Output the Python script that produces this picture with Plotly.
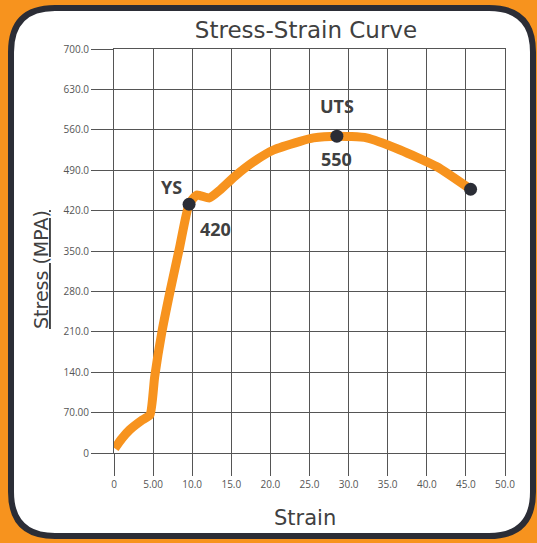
import plotly.graph_objects as go

#
# Data
#
strain = [0.1, 1.0, 2.0, 3.5, 4.6, 5.2, 6.1, 7.2, 8.4, 9.6, 10.6, 12.2, 13.5, 15.5,
          18.0, 20.4, 23.8, 25.5, 28.5, 32.3, 36.6, 41.3, 45.6]
stress = [8, 25, 40, 56, 66, 132, 208, 282, 357, 431, 447, 442, 455, 480,
          506, 525, 540, 546, 549, 546, 525, 496, 457]

point_strain = [9.6, 28.5, 45.6]
point_stress = [431, 549, 457]

x_ticks = [0, 5, 10, 15, 20, 25, 30, 35, 40, 45, 50]
x_labels = ['0', '5.00', '10.0', '15.0', '20.0', '25.0', '30.0', '35.0', '40.0', '45.0', '50.0']
y_ticks = [0, 70, 140, 210, 280, 350, 420, 490, 560, 630, 700]
y_labels = ['0', '70.00', '140.0', '210.0', '280.0', '350.0', '420.0', '490.0', '560.0', '630.0', '700.0']

ORANGE = '#F7931E'
DARK = '#2b2d36'
GRID = '#555555'
TEXT = '#404040'

W, H = 537, 543
ML, MR, MT, MB = 114, 32, 49, 90


def px(X):
    return (X - ML) / (W - ML - MR)


def py(Y):
    return (H - MB - Y) / (H - MT - MB)


# rounded frame around the chart
L, R, T, B, r = 11, 533, 8, 536, 44
pts = [('M', L + r, T), ('L', R - r, T), ('Q', R, T, R, T + r), ('L', R, B - r),
       ('Q', R, B, R - r, B), ('L', L + r, B), ('Q', L, B, L, B - r), ('L', L, T + r),
       ('Q', L, T, L + r, T)]
path = ''
for p in pts:
    cmd = p[0]
    coords = p[1:]
    parts = []
    for i in range(0, len(coords), 2):
        parts.append('%.4f,%.4f' % (px(coords[i]), py(coords[i + 1])))
    path += cmd + ' ' + ' '.join(parts) + ' '
path += 'Z'

#
# Figure
#
fig = go.Figure()
fig.add_trace(go.Scatter(x=strain, y=stress, mode='lines',
                         line=dict(color=ORANGE, width=9, shape='spline', smoothing=0.5),
                         hoverinfo='skip', showlegend=False))
fig.add_trace(go.Scatter(x=point_strain, y=point_stress, mode='markers',
                         marker=dict(color=DARK, size=13),
                         showlegend=False))

lab_font = dict(family='Open Sans, sans-serif', size=18, color=TEXT, weight='bold')
fig.add_annotation(x=point_strain[0], y=point_stress[0], text='YS', showarrow=False,
                   xshift=-18, yshift=17, font=lab_font)
fig.add_annotation(x=point_strain[0], y=point_stress[0], text='420', showarrow=False,
                   xshift=26, yshift=-25, font=lab_font)
fig.add_annotation(x=point_strain[1], y=point_stress[1], text='UTS', showarrow=False,
                   yshift=30, font=lab_font)
fig.add_annotation(x=point_strain[1], y=point_stress[1], text='550', showarrow=False,
                   yshift=-23, font=lab_font)

# axis titles
fig.add_annotation(x=px(305), y=py(518), xref='paper', yref='paper', text='Strain',
                   xanchor='center', yanchor='middle', showarrow=False,
                   font=dict(family='DejaVu Sans, sans-serif', size=21, color=TEXT))
fig.add_annotation(x=px(41), y=py(270), xref='paper', yref='paper', text='<u>Stress (MPA)</u>',
                   xanchor='center', yanchor='middle', textangle=-90, showarrow=False,
                   font=dict(family='DejaVu Sans, sans-serif', size=19, color=TEXT))

fig.add_shape(type='path', xref='paper', yref='paper', path=path, layer='below',
              fillcolor='white', line=dict(color=DARK, width=6))

axis_common = dict(showgrid=True, gridcolor=GRID, gridwidth=1, zeroline=False,
                   showline=True, linecolor=GRID, linewidth=1, mirror=True,
                   ticks='outside', ticklen=22, tickcolor=GRID, tickwidth=1,
                   tickfont=dict(family='Open Sans, sans-serif', size=10, color='#555555'))
fig.update_xaxes(range=[0, 50], tickvals=x_ticks, ticktext=x_labels, **axis_common)
fig.update_yaxes(range=[0, 700], tickvals=y_ticks, ticktext=y_labels, **axis_common)

fig.update_layout(width=W, height=H,
                  margin=dict(l=ML, r=MR, t=MT, b=MB),
                  paper_bgcolor=ORANGE, plot_bgcolor='white',
                  title=dict(text='Stress-Strain Curve', x=px(306), xref='paper', xanchor='center',
                             y=1 - 30 / H, yanchor='middle',
                             font=dict(family='DejaVu Sans, sans-serif', size=23, color=TEXT)),
                  showlegend=False)

# drop the default page margin so the figure fills the window
fig.write_html("out.html", config={'displayModeBar': False},
               post_script="document.body.style.margin='0';")
